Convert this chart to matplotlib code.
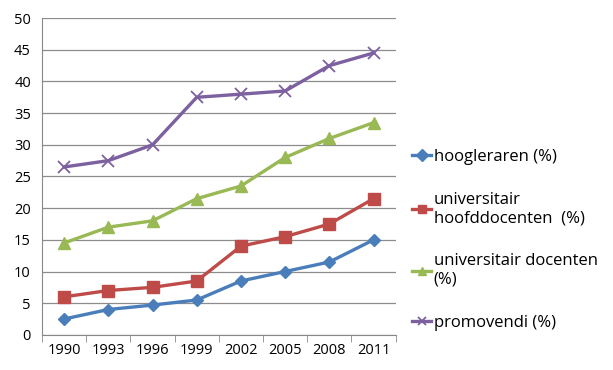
import matplotlib.pyplot as plt
import numpy as np

# jaren en percentages per groep
jaren = ['1990', '1993', '1996', '1999', '2002', '2005', '2008', '2011']
hoogleraren = [2.5, 4.0, 4.7, 5.5, 8.5, 10.0, 11.5, 15.0]
hoofddocenten = [6.0, 7.0, 7.5, 8.5, 14.0, 15.5, 17.5, 21.5]
docenten = [14.5, 17.0, 18.0, 21.5, 23.5, 28.0, 31.0, 33.5]
promovendi = [26.5, 27.5, 30.0, 37.5, 38.0, 38.5, 42.5, 44.5]

labels = ['hoogleraren (%)', 'universitair\nhoofddocenten  (%)',
          'universitair docenten\n(%)', 'promovendi (%)']

plt.rcParams['font.family'] = ['Open Sans', 'DejaVu Sans']

fig = plt.figure(figsize=(6.13, 3.70), dpi=100)
ax = fig.add_axes([0.0685, 0.095, 0.577, 0.856])

x = np.arange(len(jaren))

ax.plot(x, hoogleraren, color='#4A7EBB', lw=2.4, marker='D', ms=6, label=labels[0])
ax.plot(x, hoofddocenten, color='#BE4B48', lw=2.4, marker='s', ms=8, label=labels[1])
ax.plot(x, docenten, color='#98B954', lw=2.4, marker='^', ms=8, label=labels[2])
ax.plot(x, promovendi, color='#7D60A0', lw=2.4, marker='x', ms=9, mew=1.3, label=labels[3])

ax.set_xlim(-0.5, 7.5)
ax.set_ylim(0, 50)
ax.set_yticks(range(0, 51, 5))
ax.set_xticks(x)
ax.set_xticklabels(jaren)
ax.set_xticks(np.arange(-0.5, 8, 1), minor=True)
ax.tick_params(axis='x', which='major', length=0, labelsize=10.5, pad=6)
ax.tick_params(axis='x', which='minor', length=5, color='#888888')
ax.tick_params(axis='y', length=0, labelsize=10.5, pad=8)

ax.grid(axis='y', color='#8c8c8c', lw=0.9)
ax.set_axisbelow(True)
for s in ['top', 'right']:
    ax.spines[s].set_visible(False)
ax.spines['left'].set_color('#888888')
ax.spines['bottom'].set_color('#888888')

leg = fig.legend(loc='upper left', bbox_to_anchor=(0.672, 0.598), frameon=False,
                 fontsize=12, handlelength=1.15, handletextpad=0.15,
                 labelspacing=1.63, borderaxespad=0, borderpad=0)
for h in leg.legend_handles:
    h.set_markersize(6)

fig.savefig('out.png', dpi=100)
